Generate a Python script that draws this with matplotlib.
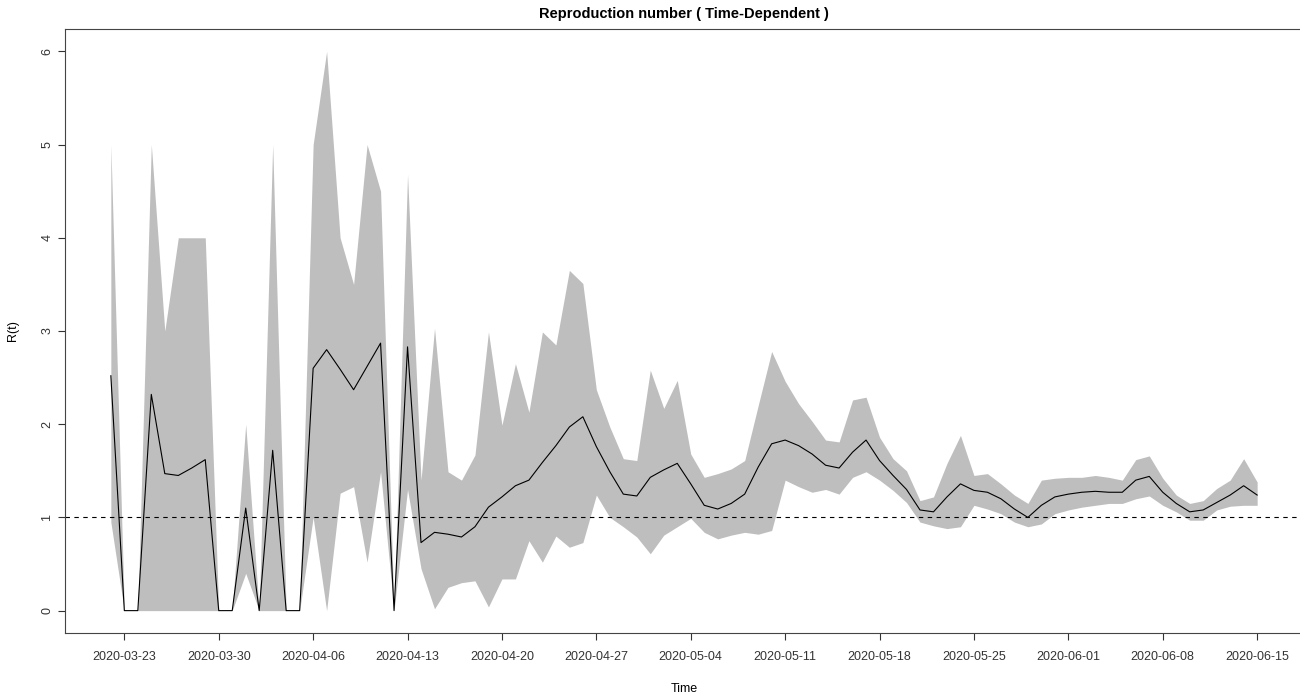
import matplotlib
matplotlib.use("Agg")
import matplotlib.pyplot as plt
import matplotlib.dates as mdates
import numpy as np
import pandas as pd

plt.rcParams['font.family'] = ['Liberation Sans', 'DejaVu Sans']

# daily estimates, 2020-03-22 .. 2020-06-15
dates = pd.date_range("2020-03-22", "2020-06-15", freq="D")

r_mean = [2.52, 0, 0, 2.32, 1.47, 1.45, 1.53, 1.62, 0, 0,
          1.10, 0, 1.72, 0, 0, 2.60, 2.80, 2.59, 2.37, 2.62,
          2.87, 0, 2.83, 0.73, 0.84, 0.82, 0.79, 0.90, 1.11, 1.22,
          1.34, 1.40, 1.59, 1.77, 1.97, 2.08, 1.76, 1.49, 1.25, 1.23,
          1.43, 1.51, 1.58, 1.36, 1.13, 1.09, 1.15, 1.25, 1.54, 1.79,
          1.83, 1.77, 1.68, 1.56, 1.53, 1.70, 1.83, 1.61, 1.45, 1.30,
          1.08, 1.06, 1.22, 1.36, 1.29, 1.27, 1.20, 1.09, 1.00, 1.13,
          1.22, 1.25, 1.27, 1.28, 1.27, 1.27, 1.40, 1.44, 1.27, 1.15,
          1.06, 1.08, 1.16, 1.24, 1.34, 1.24]

r_upper = [5.0, 0, 0, 5.0, 3.0, 4.0, 4.0, 4.0, 0, 0,
           2.0, 0, 5.0, 0, 0, 5.0, 6.0, 4.0, 3.5, 5.0,
           4.5, 0, 4.68, 1.40, 3.03, 1.49, 1.40, 1.67, 2.99, 1.99,
           2.65, 2.13, 2.99, 2.85, 3.65, 3.51, 2.37, 1.97, 1.63, 1.61,
           2.58, 2.17, 2.47, 1.68, 1.43, 1.47, 1.52, 1.61, 2.20, 2.78,
           2.46, 2.22, 2.03, 1.83, 1.81, 2.26, 2.29, 1.86, 1.63, 1.50,
           1.18, 1.22, 1.58, 1.88, 1.45, 1.47, 1.36, 1.24, 1.15, 1.40,
           1.42, 1.43, 1.43, 1.45, 1.43, 1.40, 1.62, 1.66, 1.42, 1.24,
           1.15, 1.18, 1.31, 1.40, 1.63, 1.38]

r_lower = [0.95, 0, 0, 0, 0, 0, 0, 0, 0, 0,
           0.40, 0, 0, 0, 0, 1.00, 0.0, 1.26, 1.33, 0.52,
           1.49, 0, 1.30, 0.45, 0.02, 0.25, 0.30, 0.32, 0.04, 0.34,
           0.34, 0.75, 0.52, 0.80, 0.68, 0.73, 1.24, 1.00, 0.90, 0.79,
           0.61, 0.81, 0.90, 0.99, 0.84, 0.77, 0.81, 0.84, 0.82, 0.86,
           1.40, 1.33, 1.27, 1.30, 1.25, 1.43, 1.49, 1.40, 1.29, 1.16,
           0.95, 0.91, 0.88, 0.90, 1.13, 1.09, 1.04, 0.95, 0.90, 0.93,
           1.04, 1.08, 1.11, 1.13, 1.15, 1.15, 1.20, 1.23, 1.13, 1.06,
           0.97, 0.97, 1.08, 1.12, 1.13, 1.13]

tick_dates = pd.date_range("2020-03-23", "2020-06-15", freq="7D")

fig = plt.figure(figsize=(13, 6.95), dpi=100)
ax = fig.add_axes([65 / 1300, 62 / 695, 1238 / 1300, 604 / 695])

ax.fill_between(dates, r_lower, r_upper, color="#bebebe", linewidth=0)
ax.plot(dates, r_mean, color="black", linewidth=0.8)
ax.axhline(1, color="black", linewidth=0.8, linestyle=(0, (4, 4)))

# R style 4% padding on both axes
span = dates[-1] - dates[0]
pad = span * 0.04
ax.set_xlim(dates[0] - pad, dates[-1] + pad)
ax.set_ylim(-0.24, 6.24)

ax.set_xticks(tick_dates)
ax.xaxis.set_major_formatter(mdates.DateFormatter("%Y-%m-%d"))
ax.set_yticks(range(0, 7))
ax.tick_params(axis="both", direction="out", length=5, width=0.8,
               labelsize=9, colors="#333333")
ax.tick_params(axis="x", pad=8)
for lab in ax.get_yticklabels():
    lab.set_rotation(90)
    lab.set_va("center")
for sp in ax.spines.values():
    sp.set_linewidth(0.8)
    sp.set_color("#444444")

ax.set_xlabel("Time", fontsize=9, labelpad=14)
ax.set_ylabel("R(t)", fontsize=9, labelpad=16)
ax.set_title("Reproduction number ( Time-Dependent )", fontsize=10.5,
             fontweight="bold", pad=8)

fig.savefig("out.png", dpi=100)
